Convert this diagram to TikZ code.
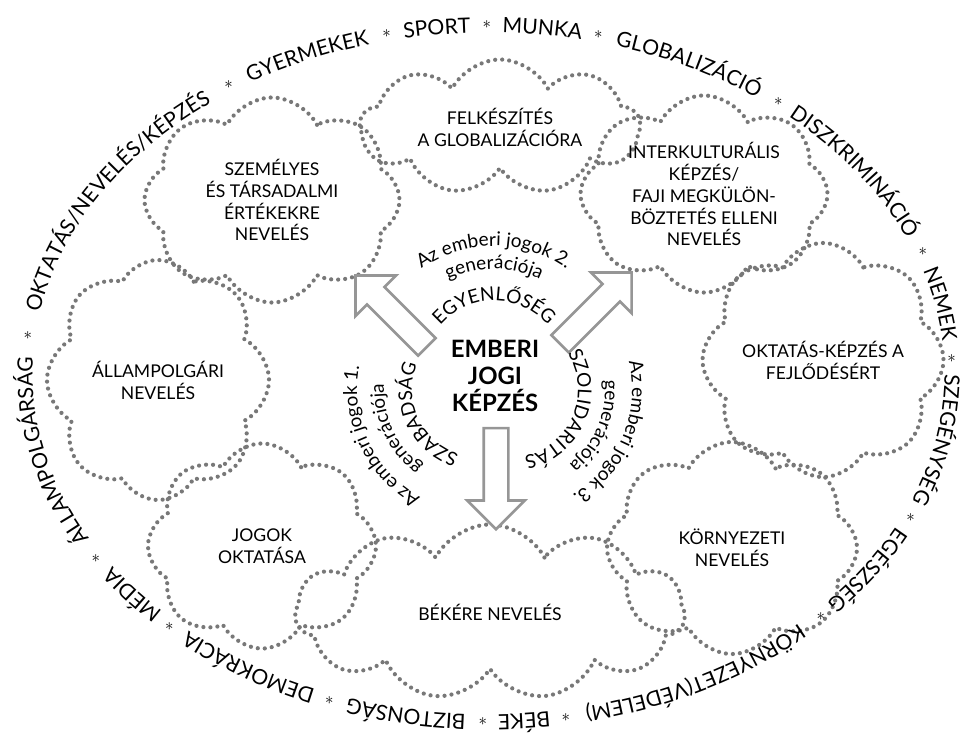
\documentclass[tikz,border=0pt]{standalone}
\usepackage{fontspec}
\setmainfont{Lato}
\usetikzlibrary{shapes.symbols,shapes.arrows,decorations.text}
\definecolor{dotgray}{RGB}{120,120,120}
\definecolor{arrowgray}{RGB}{150,150,150}
\newcommand{\ringfont}{\fontsize{15}{18}\selectfont}
\newcommand{\arcfont}{\fontsize{13.5}{16}\selectfont}

\begin{document}
\begin{tikzpicture}[x=0.025cm,y=-0.025cm,
  every node/.style={font=\fontsize{12.5}{15.6}\selectfont, align=center},
  puff/.style={cloud, cloud puffs=#1, cloud puff arc=125, cloud ignores aspect, draw=dotgray, line width=3pt, dash pattern=on 0pt off 5pt, line cap=round, inner sep=0pt},
  puff/.default=8,
  bigarrow/.style={single arrow, draw=arrowgray, line width=1.9pt, fill=white, inner xsep=0pt, inner ysep=0.275cm, minimum height=2.525cm, single arrow head extend=0.41cm, single arrow tip angle=90},
  starmark/.style={inner sep=0pt, font=\fontsize{13}{13}\selectfont},
  arctext/.style={decorate, decoration={text along path, text align=center, text={|\arcfont|#1}}}]
\useasboundingbox (0,0) rectangle (977,742);

% clouds around the centre
\node[puff=9, minimum width=7.0cm, minimum height=3.375cm] (globe) at (500,127) {FELKÉSZÍTÉS\\A GLOBALIZÁCIÓRA};
\node[puff, minimum width=6.375cm, minimum height=5.125cm] (values) at (272,200) {SZEMÉLYES\\ÉS TÁRSADALMI\\ÉRTÉKEKRE\\NEVELÉS};
\node[puff, minimum width=6.175cm, minimum height=4.925cm] (intercult) at (704,194) {INTERKULTURÁLIS\\KÉPZÉS/\\FAJI MEGKÜLÖN-\\BÖZTETÉS ELLENI\\NEVELÉS};
\node[puff, minimum width=5.55cm, minimum height=6.0cm] (citizen) at (158,380) {ÁLLAMPOLGÁRI\\NEVELÉS};
\node[puff, minimum width=6.025cm, minimum height=5.85cm] (develop) at (823,360) {OKTATÁS-KÉPZÉS A\\FEJLŐDÉSÉRT};
\node[puff, minimum width=5.7cm, minimum height=5.125cm] (rights) at (262,546) {JOGOK\\OKTATÁSA};
\node[puff, minimum width=6.25cm, minimum height=5.3cm] (environ) at (732,548) {KÖRNYEZETI\\NEVELÉS};
\node[puff=11, minimum width=9.75cm, minimum height=4.375cm] (peace) at (490,612) {BÉKÉRE NEVELÉS};

% hollow arrows
\node[bigarrow, rotate=135] (arrLeft) at (395.5,315.5) {};
\node[bigarrow, rotate=45] (arrRight) at (591.5,312.5) {};
\node[bigarrow, rotate=-90] (arrDown) at (496,472.5) {};

\node[font=\fontsize{17}{19.2}\selectfont\bfseries] (core) at (495,376) {EMBERI\\JOGI\\KÉPZÉS};

% generations on arcs
\path[arctext={Az emberi jogok 2.}] (494,372) ++(200:126) arc[start angle=200, end angle=340, radius=126];
\path[arctext={generációja}] (494,372) ++(200:103) arc[start angle=200, end angle=340, radius=103];
\path[arctext={EGYENLŐSÉG}] (494,372) ++(200:71) arc[start angle=200, end angle=340, radius=71];

\path[arctext={Az emberi jogok 1.}] (479,390) ++(75:122) arc[start angle=75, end angle=235, radius=122];
\path[arctext={generációja}] (479,390) ++(75:95) arc[start angle=75, end angle=235, radius=95];
\path[arctext={SZABADSÁG}] (479,390) ++(75:67) arc[start angle=75, end angle=235, radius=67];

\path[arctext={Az emberi jogok 3.}] (510,390) ++(-57:122) arc[start angle=-57, end angle=103, radius=122];
\path[arctext={generációja}] (510,390) ++(-57:95) arc[start angle=-57, end angle=103, radius=95];
\path[arctext={SZOLIDARITÁS}] (510,390) ++(-57:68) arc[start angle=-57, end angle=103, radius=68];

% outer ring of topics
\coordinate (ringc) at (488.5,373.5);
\foreach \from/\to/\word in {147.9/186.2/ÁLLAMPOLGÁRSÁG, 186.2/235.9/{OKTATÁS/NEVELÉS/KÉPZÉS},
    235.9/257.3/GYERMEKEK, 257.3/269.8/SPORT, 269.8/283.7/MUNKA, 283.7/308.7/GLOBALIZÁCIÓ,
    308.7/339.6/DISZKRIMINÁCIÓ, 339.6/357.5/NEMEK, 357.5/384.4/SZEGÉNYSÉG, 384.4/404.2/EGÉSZSÉG,
    404.2/440.4/KÖRNYEZET(VÉDELEM), 440.4/450.7/BÉKE, 450.7/470.1/BIZTONSÁG, 470.1/493.5/DEMOKRÁCIA,
    493.5/507.9/MÉDIA}
  \path[decorate, decoration={text along path, text align=center, text/.expanded={|\noexpand\ringfont|\word}}]
    (ringc) ++(\from:456 and 341) arc[start angle=\from, end angle=\to, x radius=456, y radius=341];
\foreach \t [count=\i] in {147.9,186.2,235.9,257.3,269.8,283.7,308.7,339.6,357.5,24.4,44.2,80.4,90.7,110.1,133.5}
  \path (ringc) ++(\t:463.5 and 348.5) node[starmark] (ast\i) {$\ast$};
\end{tikzpicture}
\end{document}
